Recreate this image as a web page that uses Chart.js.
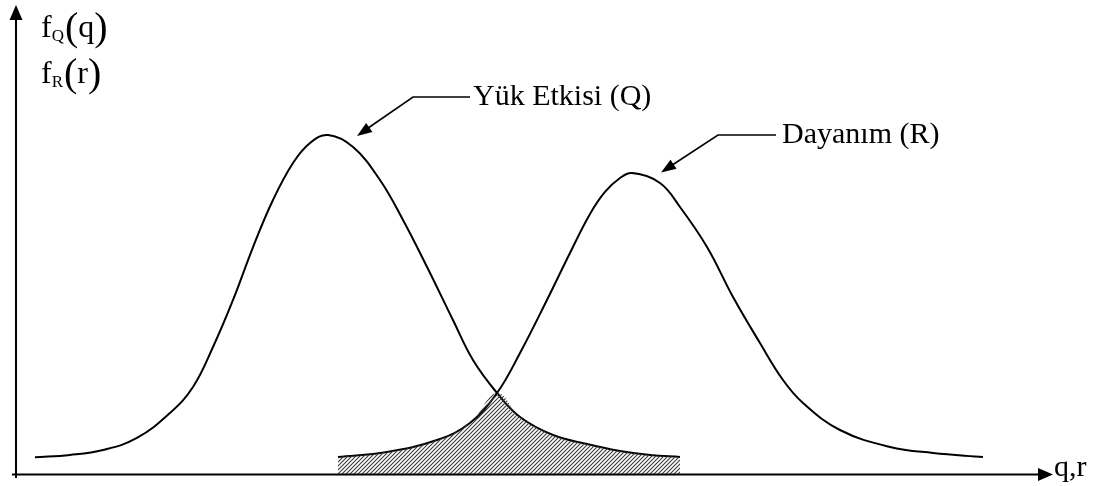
<!DOCTYPE html>
<html>
<head>
<meta charset="utf-8">
<script src="https://cdn.jsdelivr.net/npm/chart.js@4/dist/chart.umd.min.js"></script>
<style>
html,body{margin:0;padding:0;background:#fff;}
#wrap{width:1101px;height:486px;position:relative;}
</style>
</head>
<body>
<div id="wrap"><canvas id="c"></canvas></div>
<script>
// Load effect Q: x positions and density values
const qX = [1.84, 5.23, 8.43, 11.72, 14.92, 17.15, 19.09, 21.03, 22.97, 24.90, 26.84, 28.49, 30.24, 32.66, 35.27, 37.50, 39.83, 42.34, 44.28, 46.61, 48.84, 52.03, 55.33, 58.53, 61.43, 64.34];
const qY = [3.58, 4.08, 5.15, 7.73, 13.09, 18.67, 27.25, 37.34, 48.71, 58.80, 66.74, 71.03, 72.75, 70.17, 63.09, 54.51, 44.42, 33.05, 24.46, 17.38, 12.23, 8.37, 6.44, 4.94, 4.08, 3.65];
// Resistance R
const rX = [31.20, 35.95, 40.79, 43.99, 46.61, 48.84, 51.45, 53.68, 55.62, 57.07, 58.53, 59.69, 62.40, 64.34, 66.96, 69.48, 72.09, 74.32, 76.26, 79.84, 84.69, 88.86, 93.70];
const rY = [3.65, 4.72, 7.30, 10.94, 17.38, 25.97, 37.34, 47.42, 55.79, 60.52, 63.52, 64.59, 62.45, 57.30, 48.71, 37.98, 28.11, 20.17, 15.24, 9.44, 5.79, 4.51, 3.65];
// Crossing point of the two curves (x)
const crossX = 46.61;

const seriesQ = qX.map((x,i)=>({x:x,y:qY[i]}));
const seriesR = rX.map((x,i)=>({x:x,y:rY[i]}));
const overlap = seriesR.filter(p=>p.x<=crossX).concat(seriesQ.filter(p=>p.x>crossX));

function hatchPattern(){
  const s=4, c=document.createElement('canvas');
  c.width=s; c.height=s;
  const g=c.getContext('2d');
  g.strokeStyle='#3a3a3a'; g.lineWidth=1.1;
  g.beginPath();
  g.moveTo(0,s); g.lineTo(s,0);
  g.moveTo(-1,1); g.lineTo(1,-1);
  g.moveTo(s-1,s+1); g.lineTo(s+1,s-1);
  g.stroke();
  return document.getElementById('c').getContext('2d').createPattern(c,'repeat');
}

function arrowHead(ctx, fx, fy, tx, ty, len, half){
  const a=Math.atan2(ty-fy, tx-fx);
  ctx.beginPath();
  ctx.moveTo(tx,ty);
  ctx.lineTo(tx-len*Math.cos(a)+half*Math.sin(a), ty-len*Math.sin(a)-half*Math.cos(a));
  ctx.lineTo(tx-len*Math.cos(a)-half*Math.sin(a), ty-len*Math.sin(a)+half*Math.cos(a));
  ctx.closePath();
  ctx.fill();
}

const decor = {
  id:'decor',
  afterDraw(chart){
    const ctx=chart.ctx;
    const xs=chart.scales.x, ys=chart.scales.y;
    const x0=xs.getPixelForValue(0), y0=ys.getPixelForValue(0);
    ctx.save();
    ctx.strokeStyle='#000'; ctx.fillStyle='#000'; ctx.lineWidth=2;
    // y axis
    ctx.beginPath(); ctx.moveTo(x0, y0+4); ctx.lineTo(x0, 18); ctx.stroke();
    arrowHead(ctx, x0, 40, x0, 5, 15, 6.5);
    // x axis
    ctx.beginPath(); ctx.moveTo(x0-4, y0+0.5); ctx.lineTo(1040, y0+0.5); ctx.stroke();
    arrowHead(ctx, 1000, y0+0.5, 1053, y0+0.5, 15, 6.5);

    // annotation leaders
    ctx.lineWidth=1.6;
    ctx.beginPath(); ctx.moveTo(470,97); ctx.lineTo(413,97); ctx.lineTo(366,129.5); ctx.stroke();
    arrowHead(ctx, 413, 97, 357, 136, 15, 5.5);
    ctx.beginPath(); ctx.moveTo(776,135); ctx.lineTo(718,135); ctx.lineTo(670,166.5); ctx.stroke();
    arrowHead(ctx, 718, 135, 661, 172.5, 15, 5.5);

    // texts
    ctx.textBaseline='alphabetic';
    ctx.textAlign='left';
    ctx.font='30px "Liberation Serif", "Times New Roman", serif';
    ctx.fillText('Yük Etkisi (Q)', 473, 105);
    ctx.fillText('Dayanım (R)', 782, 143);
    ctx.fillText('q,r', 1054, 476);

    // f_Q(q)
    function fLabel(y, sub, arg){
      let x=41;
      ctx.font='32px "Liberation Serif", serif';
      ctx.fillText('f', x, y); x+=ctx.measureText('f').width;
      ctx.font='17px "Liberation Serif", serif';
      ctx.fillText(sub, x, y+4); x+=ctx.measureText(sub).width+1;
      ctx.font='40px "Liberation Serif", serif';
      ctx.fillText('(', x, y+3); x+=ctx.measureText('(').width;
      ctx.font='32px "Liberation Serif", serif';
      ctx.fillText(arg, x, y); x+=ctx.measureText(arg).width;
      ctx.font='40px "Liberation Serif", serif';
      ctx.fillText(')', x, y+3);
    }
    fLabel(37, 'Q', 'q');
    fLabel(83, 'R', 'r');
    ctx.restore();
  }
};

new Chart(document.getElementById('c'), {
  type:'scatter',
  data:{
    datasets:[
      {label:'overlap', data:overlap, showLine:true, fill:'origin', backgroundColor:hatchPattern(), borderWidth:0, pointRadius:0, tension:0.4},
      {label:'Yük Etkisi (Q)', data:seriesQ, showLine:true, fill:false, borderColor:'#000', borderWidth:2, pointRadius:0, tension:0.4},
      {label:'Dayanım (R)', data:seriesR, showLine:true, fill:false, borderColor:'#000', borderWidth:2, pointRadius:0, tension:0.4}
    ]
  },
  options:{
    responsive:true, maintainAspectRatio:false, animation:false,
    layout:{padding:{left:16, right:53, top:8, bottom:12}},
    scales:{
      x:{type:'linear', min:0, max:100, display:false},
      y:{type:'linear', min:0, max:100, display:false}
    },
    plugins:{legend:{display:false}, tooltip:{enabled:false}}
  },
  plugins:[decor]
});
</script>
</body>
</html>
